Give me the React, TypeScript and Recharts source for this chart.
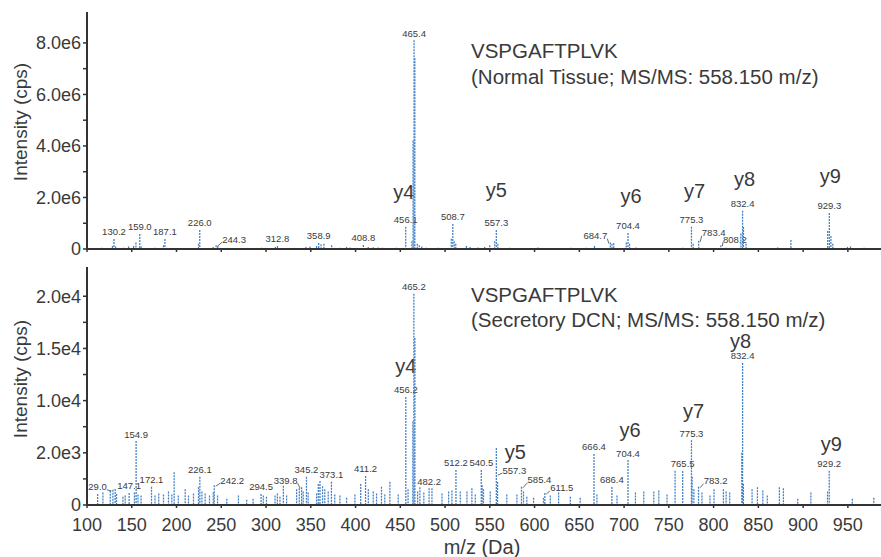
import React from "react";
import { BarChart, Bar, XAxis, YAxis } from "recharts";

const FONT = '"Liberation Sans", Arial, Helvetica, sans-serif';
const INK = "#3a3a3a";
const PEAK = "#3f7fc6";

// shared m/z axis
const xTicks = [100, 150, 200, 250, 300, 350, 400, 450, 500, 550, 600, 650, 700, 750, 800, 850, 900, 950];
const xTickLabels = ["100", "150", "200", "250", "300", "350", "400", "450", "500", "550", "600", "650", "700", "750", "800", "850", "900", "950"];

// top panel: normal tissue
const topYTicks = [0, 1e6, 2e6, 3e6, 4e6, 5e6, 6e6, 7e6, 8e6];
const topYTickLabels = ["0", "", "2.0e6", "", "4.0e6", "", "6.0e6", "", "8.0e6"];
const topPeakMz = [130.2, 159.0, 187.1, 226.0, 244.3, 312.8, 358.9, 408.8, 456.1, 465.4, 508.7, 557.3, 684.7, 704.4, 775.3, 783.4, 808.2, 832.4, 929.3];
const topPeakInt = [0.39e6, 0.58e6, 0.39e6, 0.74e6, 0.15e6, 0.12e6, 0.23e6, 0.16e6, 0.86e6, 8.1e6, 0.97e6, 0.74e6, 0.25e6, 0.62e6, 0.86e6, 0.32e6, 0.15e6, 1.48e6, 1.4e6];
const topIonMz = [456.1, 557.3, 704.4, 775.3, 832.4, 929.3];
const topIonNames = ["y4", "y5", "y6", "y7", "y8", "y9"];
const topNoiseMz = [111.2, 116.7, 120.5, 128.5, 132.0, 140.9, 146.5, 152.1, 154.7, 160.6, 170.6, 176.2, 185.5, 200.4, 207.8, 219.0, 224.6, 241.0, 246.2, 259.9, 271.0, 282.2, 295.2, 304.5, 310.5, 334.2, 344.7, 349.1, 356.5, 361.5, 364.7, 373.3, 382.6, 390.0, 393.7, 414.2, 419.8, 425.3, 430.2, 436.5, 445.8, 463.0, 464.3, 466.3, 469.0, 471.2, 474.0, 479.2, 492.3, 507.0, 510.3, 512.0, 523.9, 528.0, 536.9, 544.3, 549.9, 555.5, 559.0, 572.2, 585.2, 603.8, 628.0, 641.0, 657.7, 667.0, 686.5, 688.5, 702.5, 706.2, 713.5, 726.5, 741.4, 745.1, 765.6, 777.2, 793.4, 813.9, 830.5, 833.4, 836.3, 856.7, 871.5, 886.4, 908.7, 927.5, 931.1, 933.2, 949.6, 953.0, 968.2];
const topNoiseInt = [0.04e6, 0.05e6, 0.04e6, 0.12e6, 0.1e6, 0.05e6, 0.1e6, 0.12e6, 0.25e6, 0.1e6, 0.04e6, 0.05e6, 0.15e6, 0.04e6, 0.03e6, 0.04e6, 0.2e6, 0.08e6, 0.12e6, 0.04e6, 0.04e6, 0.04e6, 0.05e6, 0.04e6, 0.08e6, 0.03e6, 0.08e6, 0.1e6, 0.12e6, 0.18e6, 0.2e6, 0.15e6, 0.05e6, 0.08e6, 0.06e6, 0.08e6, 0.07e6, 0.06e6, 0.05e6, 0.04e6, 0.05e6, 0.3e6, 4.2e6, 7.4e6, 0.2e6, 0.15e6, 0.1e6, 0.05e6, 0.05e6, 0.4e6, 0.3e6, 0.2e6, 0.12e6, 0.08e6, 0.06e6, 0.08e6, 0.15e6, 0.3e6, 0.2e6, 0.05e6, 0.04e6, 0.06e6, 0.04e6, 0.05e6, 0.05e6, 0.12e6, 0.2e6, 0.22e6, 0.25e6, 0.2e6, 0.06e6, 0.04e6, 0.03e6, 0.04e6, 0.05e6, 0.2e6, 0.04e6, 0.05e6, 0.6e6, 0.85e6, 0.2e6, 0.04e6, 0.06e6, 0.35e6, 0.04e6, 0.7e6, 0.5e6, 0.2e6, 0.08e6, 0.1e6, 0.05e6];

// bottom panel: secretory DCN
const bottomYTicks = [0, 2500, 5000, 7500, 10000, 12500, 15000, 17500, 20000];
const bottomYTickLabels = ["0", "", "2.0e3", "", "1.0e4", "", "1.5e4", "", "2.0e4"];
const bottomPeakMz = [129.0, 147.1, 154.9, 172.1, 226.1, 242.2, 294.5, 339.8, 345.2, 373.1, 411.2, 456.2, 465.2, 482.2, 512.2, 540.5, 557.3, 585.4, 611.5, 666.4, 686.4, 704.4, 765.5, 775.3, 783.2, 832.4, 929.2];
const bottomPeakInt = [1450, 1150, 6120, 1750, 2700, 1900, 1050, 1700, 2700, 2230, 2770, 10350, 20240, 1600, 3350, 3350, 5450, 1750, 1150, 4880, 1720, 4300, 3250, 6200, 1750, 13600, 3280];
const bottomIonMz = [456.2, 557.3, 704.4, 775.3, 832.4, 929.2];
const bottomIonNames = ["y4", "y5", "y6", "y7", "y8", "y9"];
const bottomNoiseMz = [111.9, 117.8, 126.0, 131.5, 133.0, 140.2, 142.7, 153.0, 157.0, 160.4, 176.0, 180.2, 185.5, 191.1, 194.8, 197.4, 202.0, 209.7, 213.4, 219.0, 224.6, 228.4, 232.0, 236.9, 241.1, 245.9, 256.2, 269.2, 278.4, 285.6, 297.0, 300.5, 310.1, 312.7, 315.6, 319.4, 323.0, 334.2, 337.2, 341.6, 347.1, 356.5, 358.4, 360.3, 363.2, 365.7, 369.5, 376.8, 382.6, 390.0, 399.3, 405.8, 414.3, 419.8, 423.5, 429.0, 432.7, 438.4, 447.7, 458.7, 464.0, 466.3, 469.4, 471.9, 476.3, 485.4, 496.6, 504.0, 507.7, 517.0, 524.5, 530.0, 533.8, 541.5, 543.0, 550.5, 558.7, 569.0, 580.3, 587.7, 591.4, 598.9, 610.0, 617.6, 626.9, 640.0, 651.0, 669.7, 692.1, 712.7, 722.0, 733.2, 738.8, 748.0, 757.0, 776.0, 778.0, 787.0, 796.0, 800.5, 811.0, 814.0, 818.0, 831.5, 833.3, 843.0, 849.0, 855.0, 860.0, 873.5, 878.0, 894.0, 908.7, 927.3, 955.0, 979.0];
const bottomNoiseInt = [1050, 1200, 1370, 1530, 1050, 800, 900, 1200, 1000, 900, 900, 1100, 1000, 1300, 1000, 3130, 900, 1500, 900, 1100, 1700, 1300, 1100, 900, 1200, 900, 600, 900, 500, 600, 900, 800, 900, 1100, 800, 1850, 900, 1500, 1600, 1300, 1200, 1100, 2000, 2300, 1800, 1500, 1300, 1000, 900, 700, 1000, 2000, 1500, 1300, 1100, 1750, 1000, 2230, 1000, 1500, 8000, 16000, 1300, 1700, 1200, 1600, 1100, 1300, 1400, 1300, 1300, 1600, 1000, 1900, 1500, 1300, 2200, 1000, 1000, 1300, 800, 700, 700, 900, 1200, 800, 700, 1000, 900, 1200, 1300, 1300, 1400, 1000, 3280, 2700, 1500, 1200, 900, 1500, 1500, 1300, 1200, 5000, 2000, 1500, 1700, 1400, 900, 1700, 1600, 600, 1200, 1300, 600, 700];

// label placement tweaks (text-centre offset from peak top, px)
const topNudge: Record<string, [number, number]> = {
  "244.3": [18, -6],
  "684.7": [-15, -7],
  "783.4": [15, -8],
  "808.2": [14, -6],
};
const bottomNudge: Record<string, [number, number]> = {
  "129.0": [-18, -3],
  "242.2": [18, -5],
  "339.8": [-16, -7],
  "557.3": [18, 22],
  "585.4": [18, -7],
  "611.5": [17, -5],
  "783.2": [17, -6],
};
const topIonNudge: Record<string, [number, number]> = {
  y4: [-2, -28], y5: [0, -33], y6: [3, -30], y7: [3, -29], y8: [2, -25], y9: [1, -30],
};
const bottomIonNudge: Record<string, [number, number]> = {
  y4: [0, -24], y5: [1, -18], y6: [2, -23], y7: [2, -22], y8: [-2, -15], y9: [2, -20],
};

type Row = { mz: number; i: number; label?: string; ion?: string };

function buildRows(peakMz: number[], peakInt: number[], ionMz: number[], ionNames: string[], noiseMz: number[], noiseInt: number[]): Row[] {
  const rows: Row[] = peakMz.map((mz, k) => {
    const j = ionMz.indexOf(mz);
    return { mz, i: peakInt[k], label: mz.toFixed(1), ion: j >= 0 ? ionNames[j] : undefined };
  });
  noiseMz.forEach((mz, k) => rows.push({ mz, i: noiseInt[k] }));
  return rows.sort((a, b) => a.mz - b.mz);
}

const topRows = buildRows(topPeakMz, topPeakInt, topIonMz, topIonNames, topNoiseMz, topNoiseInt);
const bottomRows = buildRows(bottomPeakMz, bottomPeakInt, bottomIonMz, bottomIonNames, bottomNoiseMz, bottomNoiseInt);

const makePeakShape =
  (nudge: Record<string, [number, number]>, ionNudge: Record<string, [number, number]>) =>
  // eslint-disable-next-line @typescript-eslint/no-explicit-any
  (props: any) => {
    const { x, y, width, height, payload } = props;
    const cx = x + width / 2;
    const stick = (
      <line x1={cx} x2={cx} y1={y} y2={y + height} stroke={PEAK} strokeWidth={1.25} strokeDasharray="2 1" />
    );
    if (!payload || !payload.label) return <g>{stick}</g>;
    const nd = nudge[payload.label];
    const tx = cx + (nd ? nd[0] : 0);
    const ty = nd ? y + nd[1] : y - 7;
    let leader = null;
    if (nd) {
      const s = Math.sign(nd[0]);
      const sx = tx - s * 12;
      const sy = ty + 3;
      const ex = cx + s * 1.5;
      const ey = nd[1] > 0 ? ty + 5 : y + 1;
      leader = <line x1={sx} y1={sy} x2={ex} y2={ey} stroke="#444" strokeWidth={0.8} />;
    }
    const io = payload.ion ? ionNudge[payload.ion] : null;
    return (
      <g>
        {stick}
        {leader}
        <text x={tx} y={ty + 3.4} textAnchor="middle" fontSize={9.5} fontFamily={FONT} fill={INK}>
          {payload.label}
        </text>
        {io && (
          <text x={tx + io[0]} y={ty + io[1] + 7} textAnchor="middle" fontSize={20} fontFamily={FONT} fill={INK}>
            {payload.ion}
          </text>
        )}
      </g>
    );
  };

const topShape = makePeakShape(topNudge, topIonNudge);
const bottomShape = makePeakShape(bottomNudge, bottomIonNudge);

const axisLine = { stroke: "#333", strokeWidth: 2 };
const tickLine = { stroke: "#333", strokeWidth: 1.5 };
const tickStyle = { fill: INK, fontSize: 18, fontFamily: FONT };

const textBase: React.CSSProperties = {
  position: "absolute",
  fontFamily: FONT,
  color: INK,
  whiteSpace: "nowrap",
  lineHeight: 1,
};

const App = () => {
  return (
    <div style={{ position: "absolute", left: 0, top: 0, width: 881, height: 557, background: "#fff" }}>
      <div style={{ position: "absolute", left: 0, top: 0 }}>
        <BarChart width={881} height={258} data={topRows} margin={{ top: 12, right: 0, bottom: 0, left: 0 }}>
          <XAxis
            dataKey="mz"
            type="number"
            domain={[100, 987]}
            allowDataOverflow
            ticks={xTicks}
            interval={0}
            tickFormatter={() => ""}
            height={9}
            tickSize={3}
            axisLine={axisLine}
            tickLine={tickLine}
          />
          <YAxis
            type="number"
            domain={[0, 9.2e6]}
            allowDataOverflow
            ticks={topYTicks}
            interval={0}
            tickFormatter={(v: number) => topYTickLabels[topYTicks.indexOf(v)]}
            width={87}
            tickSize={4}
            tick={tickStyle}
            axisLine={axisLine}
            tickLine={tickLine}
          />
          <Bar dataKey="i" barSize={1} isAnimationActive={false} shape={topShape} />
        </BarChart>
      </div>
      <div style={{ position: "absolute", left: 0, top: 258 }}>
        <BarChart width={881} height={299} data={bottomRows} margin={{ top: 9, right: 0, bottom: 0, left: 0 }}>
          <XAxis
            dataKey="mz"
            type="number"
            domain={[100, 987]}
            allowDataOverflow
            ticks={xTicks}
            interval={0}
            tickFormatter={(v: number) => xTickLabels[xTicks.indexOf(v)]}
            height={52}
            tickSize={3}
            tickMargin={10}
            tick={tickStyle}
            axisLine={axisLine}
            tickLine={tickLine}
          />
          <YAxis
            type="number"
            domain={[0, 22800]}
            allowDataOverflow
            ticks={bottomYTicks}
            interval={0}
            tickFormatter={(v: number) => bottomYTickLabels[bottomYTicks.indexOf(v)]}
            width={87}
            tickSize={4}
            tick={tickStyle}
            axisLine={axisLine}
            tickLine={tickLine}
          />
          <Bar dataKey="i" barSize={1} isAnimationActive={false} shape={bottomShape} />
        </BarChart>
      </div>

      <div style={{ ...textBase, left: 471, top: 41, fontSize: 20.5 }}>VSPGAFTPLVK</div>
      <div style={{ ...textBase, left: 471, top: 67, fontSize: 20.5 }}>(Normal Tissue; MS/MS: 558.150 m/z)</div>
      <div style={{ ...textBase, left: 471, top: 285, fontSize: 20.5 }}>VSPGAFTPLVK</div>
      <div style={{ ...textBase, left: 471, top: 310, fontSize: 20.5 }}>(Secretory DCN; MS/MS: 558.150 m/z)</div>

      <div style={{ ...textBase, left: 20, top: 122, fontSize: 19, transform: "translate(-50%, -50%) rotate(-90deg)" }}>
        Intensity (cps)
      </div>
      <div style={{ ...textBase, left: 20, top: 379, fontSize: 19, transform: "translate(-50%, -50%) rotate(-90deg)" }}>
        Intensity (cps)
      </div>
      <div style={{ ...textBase, left: 482, top: 547, fontSize: 20, transform: "translate(-50%, -50%)" }}>m/z (Da)</div>
    </div>
  );
};

export default App;
